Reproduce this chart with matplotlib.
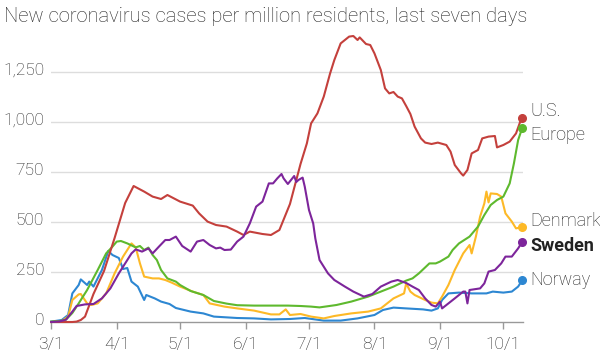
import matplotlib
matplotlib.use("Agg")
import matplotlib.pyplot as plt
import matplotlib.transforms as mtransforms

plt.rcParams['font.family'] = ['Roboto', 'DejaVu Sans']

# ---- data: days since March 1, values (new cases per million, last 7 days)
us_days = [0, 10, 12, 14, 16, 20, 25, 30, 35, 39, 44, 48, 52, 55, 61, 67, 70, 74, 78, 83, 88, 91, 94, 100,
           104, 108, 113, 118, 121, 123, 126, 129, 132, 134, 137, 141, 143, 145, 146, 149, 151, 153, 156,
           158, 160, 162, 164, 166, 168, 170, 172, 175, 177, 180, 183, 187, 189, 191, 194, 195, 197, 199,
           202, 204, 207, 210, 211, 214, 217, 220, 222, 223]
us_vals = [0, 0, 2, 10, 27, 140, 255, 420, 595, 680, 652, 627, 615, 635, 602, 582, 543, 502, 485, 477, 452,
           435, 452, 440, 435, 460, 590, 790, 893, 993, 1043, 1127, 1243, 1310, 1393, 1427, 1430, 1410, 1423,
           1390, 1385, 1343, 1260, 1168, 1143, 1150, 1127, 1118, 1080, 1040, 977, 918, 897, 890, 897, 885,
           852, 785, 743, 732, 760, 843, 860, 918, 927, 930, 873, 885, 902, 943, 1002, 1018]

eu_days = [0, 4, 7, 10, 13, 17, 22, 26, 29, 31, 33, 36, 40, 42, 44, 46, 48, 50, 52, 55, 59, 61, 66, 72, 77,
           83, 88, 96, 104, 112, 118, 123, 127, 135, 142, 150, 156, 162, 168, 171, 174, 179, 182, 184, 188,
           190, 193, 198, 202, 205, 208, 211, 214, 217, 219, 221, 223]
eu_vals = [2, 5, 12, 45, 93, 160, 260, 343, 377, 402, 405, 393, 373, 380, 360, 372, 335, 310, 260, 218, 202,
           185, 155, 135, 105, 92, 84, 82, 82, 82, 80, 77, 73, 85, 102, 127, 152, 177, 207, 218, 243, 293,
           293, 302, 327, 360, 393, 427, 477, 535, 585, 610, 627, 693, 793, 910, 972]

dk_days = [0, 5, 8, 10, 13, 14, 17, 19, 22, 26, 30, 34, 38, 40, 42, 44, 48, 51, 54, 57, 61, 67, 72, 75, 82,
           88, 96, 104, 108, 111, 113, 118, 123, 129, 134, 142, 150, 156, 162, 167, 168, 170, 172, 177, 180,
           183, 185, 188, 191, 195, 198, 199, 201, 203, 205, 206, 207, 208, 211, 213, 215, 218, 220, 222, 223]
dk_vals = [0, 5, 27, 110, 138, 140, 93, 85, 93, 143, 243, 327, 393, 373, 293, 227, 218, 218, 210, 197, 177,
           152, 135, 93, 77, 68, 57, 38, 38, 63, 35, 40, 27, 18, 30, 43, 52, 68, 118, 143, 193, 152, 135,
           110, 97, 93, 127, 185, 260, 343, 385, 343, 427, 527, 593, 652, 598, 643, 640, 627, 543, 502, 468,
           473, 477]

se_days = [0, 4, 7, 10, 12, 16, 20, 24, 28, 32, 35, 38, 40, 43, 46, 48, 51, 54, 56, 59, 62, 66, 69, 72, 75,
           78, 80, 82, 85, 88, 91, 94, 97, 100, 103, 105, 107, 109, 110, 112, 115, 116, 117, 119, 120, 122,
           124, 125, 127, 131, 134, 139, 143, 148, 152, 156, 161, 164, 168, 171, 174, 177, 180, 182, 184,
           185, 188, 191, 195, 196, 197, 198, 203, 205, 207, 210, 213, 215, 218, 221, 223]
se_vals = [0, 3, 12, 52, 80, 88, 90, 118, 168, 243, 293, 343, 363, 352, 368, 343, 377, 410, 410, 427, 380,
           352, 402, 410, 385, 368, 372, 360, 362, 402, 427, 493, 577, 602, 693, 693, 718, 740, 718, 690,
           730, 700, 710, 722, 677, 560, 493, 418, 310, 243, 210, 177, 152, 127, 140, 177, 202, 210, 195,
           177, 160, 118, 85, 77, 102, 68, 93, 118, 152, 152, 93, 160, 168, 193, 252, 260, 293, 327, 327,
           368, 402]

no_days = [0, 5, 8, 10, 13, 14, 17, 18, 20, 24, 27, 29, 32, 34, 36, 38, 41, 44, 45, 49, 52, 56, 59, 66, 72,
           77, 88, 96, 104, 113, 120, 129, 137, 145, 153, 157, 162, 168, 176, 180, 183, 185, 188, 193, 199,
           206, 209, 214, 218, 221, 223]
no_vals = [2, 10, 35, 143, 185, 213, 185, 202, 177, 260, 355, 335, 320, 265, 270, 202, 177, 110, 135, 118,
           102, 90, 70, 52, 43, 27, 20, 18, 13, 15, 20, 7, 7, 18, 35, 60, 72, 68, 63, 57, 68, 110, 143, 147,
           143, 143, 152, 147, 152, 177, 210]

tick_days = [0, 31, 61, 92, 122, 153, 184, 214]
tick_labels = ['3/1', '4/1', '5/1', '6/1', '7/1', '8/1', '9/1', '10/1']
y_ticks = [0, 250, 500, 750, 1000, 1250]
y_labels = ['0', '250', '500', '750', '1,000', '1,250']
title = 'New coronavirus cases per million residents, last seven days'

# ---- figure
W, H = 600, 354
fig = plt.figure(figsize=(W / 100, H / 100), dpi=100)
ax = fig.add_axes([51 / W, 32 / H, 472 / W, 292 / H])
ax.set_xlim(-0.1, 223.3)
ax.set_ylim(0, 1460)

for s in ['top', 'right', 'left']:
    ax.spines[s].set_visible(False)
ax.spines['bottom'].set_color('#999999')
ax.spines['bottom'].set_linewidth(1.0)

for yv in y_ticks[1:]:
    ax.axhline(yv, color='#dddddd', lw=1.0, zorder=0)

LW = 'light'
TXT = '#222222'
ax.set_yticks(y_ticks)
ax.set_yticklabels(y_labels, fontweight=LW)
ax.tick_params(axis='y', length=0, pad=5, labelsize=12.5, labelcolor=TXT)
for lab in ax.get_yticklabels():
    lab.set_verticalalignment('center_baseline')
    lab.set_transform(lab.get_transform() + mtransforms.ScaledTranslation(0, 3 / 100, fig.dpi_scale_trans))

ax.set_xticks(tick_days)
ax.set_xticklabels(tick_labels, fontweight=LW)
ax.tick_params(axis='x', length=5, width=1, color='#999999', pad=6, labelsize=12.5, labelcolor=TXT)

series = [
    (no_days, no_vals, '#2d87d2', 'Norway', 0, LW),
    (dk_days, dk_vals, '#fdb927', 'Denmark', 4, LW),
    (eu_days, eu_vals, '#5eb92e', 'Europe', -5.5, LW),
    (us_days, us_vals, '#c4403c', 'U.S.', 5.5, LW),
    (se_days, se_vals, '#7d259b', 'Sweden', -3.5, 'bold'),
]
for d, v, c, name, dy, fw in series:
    ax.plot(d, v, color=c, lw=1.5, solid_joinstyle='round', clip_on=False, zorder=3)
    ax.plot([d[-1]], [v[-1]], 'o', color=c, ms=5.5, clip_on=False, zorder=4)
    ax.annotate(name, (d[-1], v[-1]), xytext=(6, dy), textcoords='offset points',
                va='center', ha='left', fontsize=13, color=TXT,
                fontweight=fw, annotation_clip=False)

fig.text(4 / W, 1 - 17 / H, title, fontsize=14.5, fontweight=LW, color=TXT, va='center', ha='left')

fig.savefig('out.png', dpi=100)
